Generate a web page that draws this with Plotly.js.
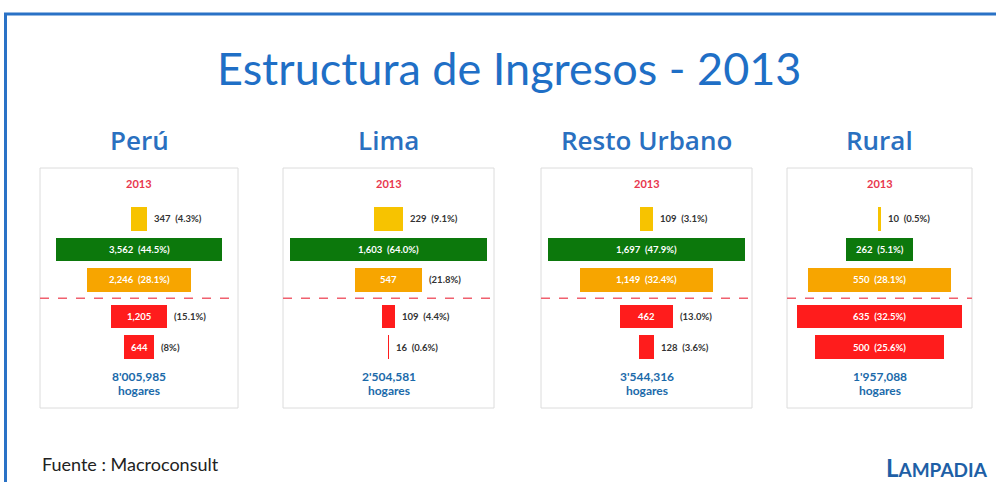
<!DOCTYPE html>
<html><head><meta charset="utf-8">
<script src="https://cdn.plot.ly/plotly-3.0.1.min.js"></script>
<style>html,body{margin:0;padding:0;background:#fff}#chart{width:996px;height:482px}</style>
</head><body><div id="chart"></div>
<script>
// ---------- data ----------
const chartTitle = "Estructura de Ingresos - 2013";
const regions = ["Perú", "Lima", "Resto Urbano", "Rural"];
const yearLabel = "2013";
const totals = ["8'005,985", "2'504,581", "3'544,316", "1'957,088"];
const totalUnit = "hogares";
const peruValues  = [347, 3562, 2246, 1205, 644];
const peruPct     = ["4.3%", "44.5%", "28.1%", "15.1%", "8%"];
const limaValues  = [229, 1603, 547, 109, 16];
const limaPct     = ["9.1%", "64.0%", "21.8%", "4.4%", "0.6%"];
const restoValues = [109, 1697, 1149, 462, 128];
const restoPct    = ["3.1%", "47.9%", "32.4%", "13.0%", "3.6%"];
const ruralValues = [10, 262, 550, 635, 500];
const ruralPct    = ["0.5%", "5.1%", "28.1%", "32.5%", "25.6%"];
const sourceText = "Fuente : Macroconsult";

// ---------- layout / style ----------
const W = 996, H = 482;
const px = v => v / W, py = v => 1 - v / H;
const barColors = ['#f7c300', '#0c780c', '#f7a500', '#ff1c1c', '#ff1c1c'];
const panelBoxes = [[40, 238], [283, 494], [541, 752], [787, 972]];
const fill = [0.84, 0.93, 0.93, 0.89];
const yTop = 168, yBot = 408;
const gap = 0.2;
const yRange = [6.2, -1.67];
const FONT = 'Lato, "Open Sans", sans-serif';
const blue = '#1f6fc6';

const valuesList = [peruValues, limaValues, restoValues, ruralValues];
const pctList = [peruPct, limaPct, restoPct, ruralPct];

const data = [], annotations = [], shapes = [];
const layout = {
  width: W, height: H, margin: {l: 0, r: 0, t: 0, b: 0},
  paper_bgcolor: '#fff', plot_bgcolor: 'rgba(0,0,0,0)',
  showlegend: false, hovermode: false, bargap: 0
};

const fmt = v => v.toLocaleString('en-US');
const charW = 5.5, pad = 12;

valuesList.forEach((vals, k) => {
  const n = k === 0 ? '' : String(k + 1);
  const xa = 'x' + n, ya = 'y' + n;
  const [bx0, bx1] = panelBoxes[k];
  const domPx = bx1 - bx0;
  const maxV = Math.max(...vals);
  const R = maxV / 2 / fill[k];
  const pos = vals.map((v, i) => i + (i >= 3 ? gap : 0));
  layout['xaxis' + n] = {domain: [px(bx0), px(bx1)], range: [-R, R], visible: false, fixedrange: true, anchor: ya};
  layout['yaxis' + n] = {domain: [py(yBot), py(yTop)], range: yRange, visible: false, fixedrange: true, anchor: xa};
  data.push({
    type: 'bar', orientation: 'h', xaxis: xa, yaxis: ya,
    x: vals, base: vals.map(v => -v / 2), y: pos, width: 0.78,
    marker: {color: barColors, line: {width: 0}}, hoverinfo: 'skip'
  });
  // panel box
  shapes.push({type: 'rect', xref: xa + ' domain', yref: ya + ' domain', x0: 0, x1: 1, y0: 0, y1: 1,
    line: {color: '#dcdcdc', width: 1}, fillcolor: 'rgba(0,0,0,0)', layer: 'below'});
  // dashed separator
  shapes.push({type: 'line', xref: xa + ' domain', yref: ya, x0: 0, x1: 1, y0: 2.6, y1: 2.6,
    line: {color: '#f0606e', width: 1.5, dash: 'dash'}});
  // panel title
  annotations.push({xref: xa + ' domain', yref: 'paper', x: 0.5, y: py(140), text: regions[k],
    showarrow: false, xanchor: 'center', yanchor: 'middle',
    font: {family: '"Open Sans", sans-serif', size: 26, weight: 600, color: '#2a70c0'}});
  annotations.push({xref: xa, yref: ya, x: 0, y: -1.15, text: '<b>' + yearLabel + '</b>', showarrow: false,
    font: {family: FONT, size: 11, color: '#e8364c'}});
  annotations.push({xref: xa, yref: ya, x: 0, y: 5.18, text: '<b>' + totals[k] + '</b>', showarrow: false,
    font: {family: FONT, size: 12, color: '#1b6aaa'}});
  annotations.push({xref: xa, yref: ya, x: 0, y: 5.64, text: '<b>' + totalUnit + '</b>', showarrow: false,
    font: {family: FONT, size: 12, color: '#1b6aaa'}});
  // labels
  vals.forEach((v, i) => {
    const barPx = v / (2 * R) * domPx;
    const valTxt = fmt(v), pctTxt = '(' + pctList[k][i] + ')';
    const measure = valTxt + ' ' + pctTxt;
    const full = valTxt + '  ' + pctTxt;
    const inFont = {family: FONT, size: 9.5, color: '#ffffff'};
    const outFont = {family: FONT, size: 9.5, color: '#333333'};
    if (barPx >= measure.length * charW + pad) {
      annotations.push({xref: xa, yref: ya, x: 0, y: pos[i], text: '<b>' + full + '</b>', showarrow: false, font: inFont});
    } else if (barPx >= valTxt.length * charW + pad) {
      annotations.push({xref: xa, yref: ya, x: 0, y: pos[i], text: '<b>' + valTxt + '</b>', showarrow: false, font: inFont});
      annotations.push({xref: xa, yref: ya, x: v / 2, y: pos[i], text: '<b>' + pctTxt + '</b>', showarrow: false,
        xanchor: 'left', xshift: 5, font: outFont});
    } else {
      annotations.push({xref: xa, yref: ya, x: v / 2, y: pos[i], text: '<b>' + full + '</b>', showarrow: false,
        xanchor: 'left', xshift: 5, font: outFont});
    }
  });
});

// main title
annotations.push({xref: 'paper', yref: 'paper', x: px(509), y: py(68), text: chartTitle, showarrow: false,
  xanchor: 'center', yanchor: 'middle', font: {family: FONT, size: 45, color: blue}});
// source
annotations.push({xref: 'paper', yref: 'paper', x: px(40), y: py(464), text: sourceText, showarrow: false,
  xanchor: 'left', yanchor: 'middle', font: {family: FONT, size: 18, color: '#222'}});
// logo text
annotations.push({xref: 'paper', yref: 'paper', x: px(990), y: py(467),
  text: '<b><span style="font-size:24px">L</span>AMPADIA</b>', showarrow: false,
  xanchor: 'right', yanchor: 'middle', font: {family: FONT, size: 19, color: '#1e5fa6'}});
// frame lines
shapes.push({type: 'line', xref: 'paper', yref: 'paper', x0: px(4), x1: 1, y0: py(14), y1: py(14),
  line: {color: '#2a72c6', width: 3}});
shapes.push({type: 'line', xref: 'paper', yref: 'paper', x0: px(5.5), x1: px(5.5), y0: py(13), y1: 0,
  line: {color: '#2a72c6', width: 3}});

layout.annotations = annotations;
layout.shapes = shapes;
Plotly.newPlot('chart', data, layout, {staticPlot: true, displayModeBar: false});
</script>
</body></html>
